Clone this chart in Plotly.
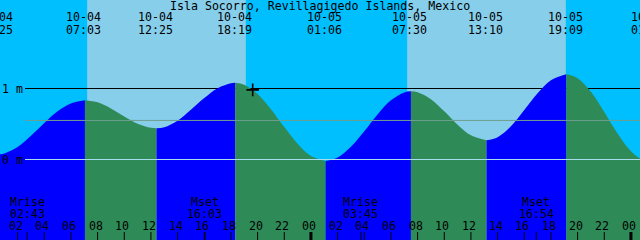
import plotly.graph_objects as go

TITLE = "Isla Socorro, Revillagigedo Islands, Mexico"

# ---- data (hours since 10-04 00:00 local, levels in metres) ----
tide_hours = [0.42, 1, 2, 3, 4, 5, 6, 7.05, 8, 9, 10, 11, 12, 12.42, 13, 14, 15, 16, 17, 18,
              18.32, 19, 20, 21, 22, 23, 24, 25.1, 26, 27, 28, 29, 30, 31, 31.5, 32, 33, 34,
              35, 36, 37.17, 38, 39, 40, 41, 42, 43.15, 44, 45, 46, 47, 48, 49, 49.4]
tide_m = [0.07, 0.085, 0.175, 0.335, 0.515, 0.68, 0.79, 0.835, 0.805, 0.72, 0.607, 0.505,
          0.447, 0.44, 0.455, 0.547, 0.70, 0.865, 1.004, 1.075, 1.08, 1.053, 0.922, 0.708,
          0.456, 0.221, 0.05, -0.02, 0.027, 0.178, 0.398, 0.635, 0.833, 0.945, 0.96, 0.947,
          0.848, 0.678, 0.49, 0.34, 0.27, 0.314, 0.468, 0.696, 0.933, 1.117, 1.20, 1.145,
          0.953, 0.67, 0.366, 0.116, -0.018, -0.03]

event_dates = ["10-04", "10-04", "10-04", "10-04", "10-05", "10-05", "10-05", "10-05", "10-06"]
event_times = ["00:25", "07:03", "12:25", "18:19", "01:06", "07:30", "13:10", "19:09", "01:24"]

sunrise = ["10-04 07:13", "10-05 07:13"]
sunset = ["10-04 19:07", "10-05 19:07"]

moon_names = ["Mrise", "Mset", "Mrise", "Mset"]
moon_dates = ["10-04", "10-04", "10-05", "10-05"]
moon_times = ["02:43", "16:03", "03:45", "16:54"]

tick_hours = [2, 4, 6, 8, 10, 12, 14, 16, 18, 20, 22, 24,
              26, 28, 30, 32, 34, 36, 38, 40, 42, 44, 46, 48]
tick_labels = ["02", "04", "06", "08", "10", "12", "14", "16", "18", "20", "22", "00",
               "02", "04", "06", "08", "10", "12", "14", "16", "18", "20", "22", "00"]
midnight_hours = [24, 48]

mark_level = 1.0
datum_level = 0.0
msl_level = 0.55
level_labels = ["1 m", "0 m"]
level_values = [1.0, 0.0]

now_hour = 19.63
now_level = 0.98

# ---- style ----
W, H = 640, 240
X0, SPAN = 0.68, 48.0
Y_TOP, Y_BOT = 159.5 / 71, -80.5 / 71
NIGHT = "#00BFFF"
DAY = "#87CEEB"
RISE = "#0000FF"
FALL = "#2E8B57"
FONT = dict(family="DejaVu Sans Mono", size=11.6, color="black")


def to_hours(date, hm):
    day = int(date[-2:]) - 4
    h, m = hm.split(":")
    return day * 24 + int(h) + int(m) / 60.0


def xp(t):
    return (t - X0) / SPAN


def yp(pix):
    return 1 - pix / H


fig = go.Figure()
shapes = []
annotations = []


def label(x, xref, y, yref, text, xshift=0, xanchor="center"):
    annotations.append(dict(x=x, xref=xref, y=y, yref=yref, text=text, xshift=xshift,
                            showarrow=False, font=FONT, borderpad=0, xanchor=xanchor,
                            yanchor="middle"))


# daylight
for r, s in zip(sunrise, sunset):
    shapes.append(dict(type="rect", xref="x", yref="paper", x0=to_hours(*r.split()),
                       x1=to_hours(*s.split()), y0=0, y1=1, fillcolor=DAY,
                       line=dict(width=0), layer="below"))
# mark line (under tide fill)
shapes.append(dict(type="line", xref="paper", yref="y", x0=25 / W, x1=1, y0=mark_level,
                   y1=mark_level, line=dict(color="black", width=1), layer="below"))

# tide fills, split at extrema
ev_hours = [to_hours(d, t) for d, t in zip(event_dates, event_times)]
for a, b in zip(ev_hours[:-1], ev_hours[1:]):
    xs = [t for t in tide_hours if a - 0.02 <= t <= b + 0.02]
    ys = [v for t, v in zip(tide_hours, tide_m) if a - 0.02 <= t <= b + 0.02]
    color = RISE if ys[-1] > ys[0] else FALL
    fig.add_trace(go.Scatter(x=[xs[0], xs[-1]], y=[-1.5, -1.5], mode="lines",
                             line=dict(width=0), hoverinfo="skip", showlegend=False))
    fig.add_trace(go.Scatter(x=xs, y=ys, mode="lines", fill="tonexty", fillcolor=color,
                             line=dict(width=0, shape="spline", smoothing=1),
                             hoverinfo="skip", showlegend=False))

# datum / msl lines over fill
shapes.append(dict(type="line", xref="paper", yref="y", x0=25 / W, x1=1, y0=msl_level,
                   y1=msl_level, line=dict(color="#6F9F8F", width=1), layer="above"))
shapes.append(dict(type="line", xref="paper", yref="y", x0=25 / W, x1=1, y0=datum_level,
                   y1=datum_level, line=dict(color="#A8DDF0", width=1), layer="above"))

# hour ticks
for h, lab in zip(tick_hours, tick_labels):
    wid = 3 if h in midnight_hours else 1
    shapes.append(dict(type="line", xref="x", yref="paper", x0=h, x1=h, y0=0, y1=8 / H,
                       line=dict(color="black", width=wid), layer="above"))
    label(h, "x", yp(225.6), "paper", lab, xshift=-2)

# moon events
for n, d, t in zip(moon_names, moon_dates, moon_times):
    mh = to_hours(d, t)
    shapes.append(dict(type="line", xref="x", yref="paper", x0=mh, x1=mh, y0=0, y1=8 / H,
                       line=dict(color="black", width=1), layer="above"))
    label(mh, "x", yp(201.6), "paper", n)
    label(mh, "x", yp(213.9), "paper", t)

# tide event labels at top
for d, t, h in zip(event_dates, event_times, ev_hours):
    label(xp(h), "paper", yp(16.7), "paper", d, xshift=-1)
    label(xp(h), "paper", yp(29.7), "paper", t, xshift=-1)

# title
label(0.5, "paper", yp(5.8), "paper", TITLE)

# level labels
for lab, v in zip(level_labels, level_values):
    label(1 / W, "paper", v, "y", lab, xanchor="left")

# current time marker
fig.add_trace(go.Scatter(x=[now_hour], y=[now_level], mode="markers",
                         marker=dict(symbol="cross-thin", size=9,
                                     line=dict(color="black", width=1.6)),
                         hoverinfo="skip", showlegend=False))

fig.update_layout(
    width=W, height=H, margin=dict(l=0, r=0, t=0, b=0, pad=0),
    paper_bgcolor=NIGHT, plot_bgcolor=NIGHT, showlegend=False,
    xaxis=dict(range=[X0, X0 + SPAN], visible=False, fixedrange=True),
    yaxis=dict(range=[Y_BOT, Y_TOP], visible=False, fixedrange=True),
    shapes=shapes, annotations=annotations,
)
fig.write_html("out.html", config={"displayModeBar": False})
